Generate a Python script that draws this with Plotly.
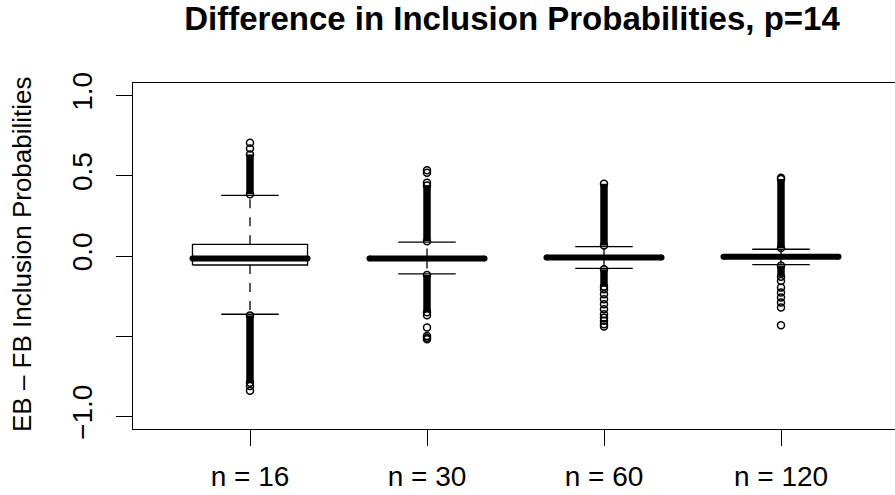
import plotly.graph_objects as go

# ---------------- data ----------------
categories = ["n = 16", "n = 30", "n = 60", "n = 120"]
positions = [1, 2, 3, 4]

q1 = [-0.056, -0.022, -0.014, -0.008]
median = [-0.016, -0.016, -0.010, -0.004]
q3 = [0.073, -0.010, -0.006, 0.000]
whisker_low = [-0.363, -0.112, -0.077, -0.054]
whisker_high = [0.378, 0.087, 0.059, 0.042]

# ranges that are packed solid with outlying points
dense_upper_lo = [0.385, 0.092, 0.065, 0.050]
dense_upper_hi = [0.633, 0.440, 0.450, 0.480]
dense_lower_hi = [-0.370, -0.118, -0.083, -0.060]
dense_lower_lo = [-0.790, -0.350, -0.190, -0.130]

# separate outlying points
sparse_outliers = [
    [0.670, 0.706, -0.810, -0.840],
    [0.457, 0.519, 0.535, -0.369, -0.446, -0.498, -0.510, -0.518],
    [-0.207, -0.238, -0.269, -0.300, -0.332, -0.363, -0.384, -0.404, -0.425, -0.440],
    [0.488, -0.156, -0.197, -0.228, -0.259, -0.290, -0.321, -0.431],
]

y_tickvals = [-1.0, -0.5, 0.0, 0.5, 1.0]
y_ticktext = ["\u22121.0", "", "0.0", "0.5", "1.0"]

title_text = "Difference in Inclusion Probabilities, p=14"
y_title = "EB \u2013 FB Inclusion Probabilities"

# ---------------- style ----------------
HW = 0.325          # half box width
FONT = "Liberation Sans, Arial, Helvetica, sans-serif"
LW = 1.3

fig = go.Figure()


def add_line(xs, ys, width=LW, dash="solid"):
    fig.add_trace(go.Scatter(x=xs, y=ys, mode="lines",
                             line=dict(color="black", width=width, dash=dash),
                             showlegend=False, hoverinfo="skip"))


for i, p in enumerate(positions):
    # whiskers (dashed)
    add_line([p, p], [q3[i], whisker_high[i]], dash="dash")
    add_line([p, p], [q1[i], whisker_low[i]], dash="dash")
    # staples
    add_line([p - HW / 2, p + HW / 2], [whisker_high[i]] * 2)
    add_line([p - HW / 2, p + HW / 2], [whisker_low[i]] * 2)
    # box
    fig.add_trace(go.Scatter(x=[p - HW, p + HW, p + HW, p - HW, p - HW],
                             y=[q1[i], q1[i], q3[i], q3[i], q1[i]],
                             mode="lines", fill="toself", fillcolor="white",
                             line=dict(color="black", width=LW),
                             showlegend=False, hoverinfo="skip"))
    # median (thick, rounded ends)
    fig.add_trace(go.Scatter(x=[p - HW, p + HW], y=[median[i]] * 2,
                             mode="lines+markers",
                             line=dict(color="black", width=6),
                             marker=dict(color="black", size=6, symbol="circle",
                                         line=dict(width=0)),
                             showlegend=False, hoverinfo="skip"))
    # dense outlier columns
    for lo, hi in ((dense_upper_lo[i], dense_upper_hi[i]),
                   (dense_lower_lo[i], dense_lower_hi[i])):
        fig.add_trace(go.Scatter(x=[p, p], y=[lo, hi], mode="lines+markers",
                                 line=dict(color="black", width=7.5),
                                 marker=dict(symbol="circle-open", size=7,
                                             color="black", line=dict(width=1.5)),
                                 showlegend=False, hoverinfo="skip"))
    # sparse outliers
    fig.add_trace(go.Scatter(x=[p] * len(sparse_outliers[i]), y=sparse_outliers[i],
                             mode="markers",
                             marker=dict(symbol="circle-open", size=7,
                                         color="black", line=dict(width=1.5)),
                             showlegend=False, hoverinfo="skip"))

fig.update_layout(
    width=895, height=495,
    margin=dict(l=133, r=0, t=83, b=66),
    paper_bgcolor="white", plot_bgcolor="white",
    font=dict(family=FONT, color="black"),
    title=dict(text="<b>" + title_text + "</b>", font=dict(size=33, family=FONT, color="black"),
               x=512 / 895, xref="container", xanchor="center",
               y=1 - 18 / 495, yref="container", yanchor="middle"),
    showlegend=False,
)

fig.update_xaxes(
    range=[1 - 117 / 177, 1 + 645 / 177],
    tickvals=positions, ticktext=categories,
    ticks="outside", ticklen=16, tickwidth=1, tickcolor="black",
    tickfont=dict(size=28, family=FONT, color="black"),
    ticklabelstandoff=6,
    showline=True, mirror=True, linecolor="black", linewidth=1.2,
    showgrid=False, zeroline=False,
)
fig.update_yaxes(
    range=[-1.078, 1.078],
    tickvals=y_tickvals, ticktext=y_ticktext, tickangle=-90,
    ticks="outside", ticklen=16, tickwidth=1, tickcolor="black",
    tickfont=dict(size=28, family=FONT, color="black"),
    ticklabelstandoff=13,
    showline=True, mirror=False, linecolor="black", linewidth=1.2,
    showgrid=False, zeroline=False,
)

fig.add_annotation(text=y_title, textangle=-90, showarrow=False,
                   xref="paper", yref="paper",
                   x=(22 - 133) / 762, y=(429 - 254) / 346,
                   xanchor="center", yanchor="middle",
                   font=dict(size=26, family=FONT, color="black"))

fig.write_html("out.html")
